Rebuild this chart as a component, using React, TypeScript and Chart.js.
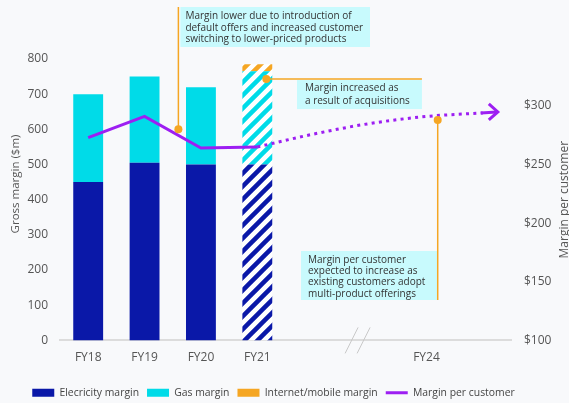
import React, { useEffect, useRef } from 'react';
import { Chart, registerables } from 'chart.js';

Chart.register(...registerables);

// ---------- data ----------
const categories = ['FY18', 'FY19', 'FY20', 'FY21', '', '', 'FY24', ''];
const electricityMargin = [450, 505, 500, 500, null, null, null, null];
const gasMargin = [250, 245, 220, 265, null, null, null, null];
const internetMargin = [null, null, null, 20, null, null, null, null];
const marginPerCustomer = [273, 291, 264, 265, null, null, null, null];
const marginPerCustomerOutlook = [null, null, null, 265, 276, 285, 291, 294];
const grossTicks = [0, 100, 200, 300, 400, 500, 600, 700, 800];
const customerTicks = [100, 150, 200, 250, 300];
const legendLabels = ['Elecricity margin', 'Gas margin', 'Internet/mobile margin', 'Margin per customer'];
const note1 = ['Margin lower due to introduction of', 'default offers and increased customer', 'switching to lower-priced products'];
const note2 = ['Margin increased as', 'a result of acquisitions'];
const note3 = ['Margin per customer', 'expected to increase as', 'existing customers adopt', 'multi-product offerings'];

// ---------- styles ----------
const DARK = '#0a18a8';
const CYAN = '#00dbe8';
const ORANGE = '#f5a623';
const PURPLE = '#9d1ff2';
const NOTE_BG = '#c8fafd';
const TEXT = '#555555';
const FONT = '"Open Sans", sans-serif';

function hatch(color: string): CanvasPattern | string {
  const S = 13;
  const c = document.createElement('canvas');
  c.width = S;
  c.height = S;
  const g = c.getContext('2d');
  if (!g) return color;
  g.fillStyle = '#ffffff';
  g.fillRect(0, 0, S, S);
  g.strokeStyle = color;
  g.lineWidth = 4.5;
  g.beginPath();
  g.moveTo(-S / 2, S / 2); g.lineTo(S / 2, -S / 2);
  g.moveTo(0, S); g.lineTo(S, 0);
  g.moveTo(S / 2, (3 * S) / 2); g.lineTo((3 * S) / 2, S / 2);
  g.stroke();
  const p = g.createPattern(c, 'repeat');
  return p || color;
}

function drawNote(ctx: CanvasRenderingContext2D, lines: string[], x0: number, y0: number, x1: number, y1: number, tx: number, ty: number, lh: number) {
  ctx.fillStyle = NOTE_BG;
  ctx.fillRect(x0, y0, x1 - x0, y1 - y0);
  ctx.fillStyle = '#333333';
  ctx.font = `10px ${FONT}`;
  ctx.textAlign = 'left';
  ctx.textBaseline = 'middle';
  lines.forEach((l, i) => ctx.fillText(l, tx, ty + i * lh));
}

function dot(ctx: CanvasRenderingContext2D, x: number, y: number) {
  ctx.fillStyle = ORANGE;
  ctx.beginPath();
  ctx.arc(x, y, 4, 0, Math.PI * 2);
  ctx.fill();
}

const annotations = {
  id: 'annotations',
  afterLayout(chart: any) {
    const lg = chart.legend;
    if (lg) {
      lg.left -= 11; lg.right -= 11;
      lg.top += 5; lg.bottom += 5;
    }
  },
  afterDatasetsDraw(chart: any) {
    const { ctx, scales } = chart;
    const x = scales.x, y = scales.y, y1 = scales.y1;
    ctx.save();

    // axis titles
    ctx.fillStyle = TEXT;
    ctx.font = `11.5px ${FONT}`;
    ctx.textAlign = 'center';
    ctx.textBaseline = 'middle';
    ctx.save(); ctx.translate(16, 184); ctx.rotate(-Math.PI / 2); ctx.fillText('Gross margin ($m)', 0, 0); ctx.restore();
    ctx.font = `12px ${FONT}`;
    ctx.save(); ctx.translate(565, (chart.chartArea.top + chart.chartArea.bottom) / 2); ctx.rotate(-Math.PI / 2); ctx.fillText('Margin per customer', 0, 0); ctx.restore();

    // axis break marks
    const bx = x.getPixelForValue(4.77);
    const by = y.getPixelForValue(0);
    ctx.strokeStyle = '#c8c8c8';
    ctx.lineWidth = 1;
    ctx.beginPath();
    ctx.moveTo(bx - 12, by + 13); ctx.lineTo(bx + 1, by - 13);
    ctx.moveTo(bx, by + 13); ctx.lineTo(bx + 13, by - 13);
    ctx.stroke();

    // arrow at end of outlook line
    const meta = chart.getDatasetMeta(4);
    const last = meta.data[meta.data.length - 1];
    if (last) {
      const tipX = last.x + 15, tipY = last.y - 1;
      ctx.strokeStyle = PURPLE;
      ctx.lineWidth = 3;
      ctx.lineCap = 'butt';
      ctx.beginPath();
      ctx.moveTo(last.x - 2, last.y); ctx.lineTo(tipX - 1, tipY);
      ctx.stroke();
      ctx.beginPath();
      ctx.moveTo(tipX - 9, tipY - 8); ctx.lineTo(tipX, tipY); ctx.lineTo(tipX - 9, tipY + 8);
      ctx.stroke();
    }

    // note 1
    ctx.strokeStyle = ORANGE;
    ctx.lineWidth = 1.5;
    const d1x = x.getPixelForValue(1.6), d1y = y.getPixelForValue(600);
    ctx.beginPath(); ctx.moveTo(d1x, 7); ctx.lineTo(d1x, d1y); ctx.stroke();
    dot(ctx, d1x, d1y);
    drawNote(ctx, note1, d1x + 2, 7, 370, 47, d1x + 7, 16.5, 11.5);

    // note 2
    const d2x = x.getPixelForValue(3.16), d2y = y.getPixelForValue(743);
    const e2x = x.getPixelForValue(5.92);
    ctx.strokeStyle = ORANGE;
    ctx.beginPath(); ctx.moveTo(d2x, d2y); ctx.lineTo(e2x, d2y); ctx.stroke();
    dot(ctx, d2x, d2y);
    drawNote(ctx, note2, 297, d2y + 1, e2x, d2y + 30, 305, d2y + 9.5, 12.5);

    // note 3
    const d3x = x.getPixelForValue(6.2), d3y = y1.getPixelForValue(288);
    const b3 = 300;
    drawNote(ctx, note3, 301, 251, d3x, b3, 308, 260, 11.3);
    ctx.strokeStyle = ORANGE;
    ctx.beginPath(); ctx.moveTo(d3x, d3y); ctx.lineTo(d3x, b3); ctx.stroke();
    dot(ctx, d3x, d3y);

    ctx.restore();
  },
};

export default function App() {
  const ref = useRef<HTMLCanvasElement | null>(null);

  useEffect(() => {
    document.body.style.margin = '0';
    document.body.style.background = '#f8f9fb';
    const canvas = ref.current;
    if (!canvas) return;
    const hDark = hatch(DARK), hCyan = hatch(CYAN), hOrange = hatch(ORANGE);
    const fy21 = categories.indexOf('FY21');
    const colorsFor = (solid: string, hatched: any) => categories.map((_, i) => (i === fy21 ? hatched : solid));

    const chart = new Chart(canvas, {
      type: 'bar',
      data: {
        labels: categories,
        datasets: [
          { type: 'bar', label: legendLabels[0], data: electricityMargin, backgroundColor: colorsFor(DARK, hDark), borderWidth: 0, yAxisID: 'y', order: 2 },
          { type: 'bar', label: legendLabels[1], data: gasMargin, backgroundColor: colorsFor(CYAN, hCyan), borderWidth: 0, yAxisID: 'y', order: 2 },
          { type: 'bar', label: legendLabels[2], data: internetMargin, backgroundColor: colorsFor(ORANGE, hOrange), borderWidth: 0, yAxisID: 'y', order: 2 },
          { type: 'line', label: legendLabels[3], data: marginPerCustomer, borderColor: PURPLE, backgroundColor: PURPLE, borderWidth: 3, pointRadius: 0, tension: 0, yAxisID: 'y1', order: 0 },
          { type: 'line', label: 'outlook', data: marginPerCustomerOutlook, borderColor: PURPLE, backgroundColor: PURPLE, borderWidth: 3, borderDash: [3, 4.3], pointRadius: 0, cubicInterpolationMode: 'monotone', yAxisID: 'y1', order: 0 },
        ] as any,
      },
      options: {
        responsive: false,
        animation: false,
        layout: { padding: { top: 59, left: 0, right: 0, bottom: 0 } },
        datasets: { bar: { barPercentage: 0.53, categoryPercentage: 1 } } as any,
        scales: {
          x: {
            stacked: true,
            grid: { display: false, drawTicks: false },
            border: { display: true, color: '#dcdcdc', width: 2 },
            ticks: { color: TEXT, font: { family: FONT, size: 12 }, padding: 10, autoSkip: false, maxRotation: 0 },
            afterFit: (s: any) => { s.height = 34.2; },
          },
          y: {
            stacked: true,
            position: 'left',
            min: 0,
            max: 800,
            grid: { display: false, drawTicks: false },
            border: { display: false },
            ticks: { color: TEXT, font: { family: FONT, size: 12 }, padding: 12 },
            afterBuildTicks: (s: any) => { s.ticks = grossTicks.map((v) => ({ value: v })); },
            afterFit: (s: any) => { s.width = 60; },
          },
          y1: {
            stacked: false,
            position: 'right',
            min: 100,
            max: 340,
            grid: { display: false, drawTicks: false },
            border: { display: false },
            ticks: { color: TEXT, font: { family: FONT, size: 12 }, padding: 13, callback: (v: any) => '$' + v },
            afterBuildTicks: (s: any) => { s.ticks = customerTicks.map((v) => ({ value: v })); },
            afterFit: (s: any) => { s.width = 58; },
          },
        },
        plugins: {
          tooltip: { enabled: false },
          legend: {
            position: 'bottom',
            labels: {
              usePointStyle: true,
              pointStyleWidth: 22,
              boxHeight: 8,
              padding: 8,
              color: '#444444',
              font: { family: FONT, size: 10.4 },
              generateLabels: () => [
                { text: legendLabels[0], fillStyle: DARK, strokeStyle: DARK, lineWidth: 0, pointStyle: 'rect', hidden: false, datasetIndex: 0, fontColor: '#444444' },
                { text: legendLabels[1], fillStyle: CYAN, strokeStyle: CYAN, lineWidth: 0, pointStyle: 'rect', hidden: false, datasetIndex: 1, fontColor: '#444444' },
                { text: legendLabels[2], fillStyle: ORANGE, strokeStyle: ORANGE, lineWidth: 0, pointStyle: 'rect', hidden: false, datasetIndex: 2, fontColor: '#444444' },
                { text: legendLabels[3], fillStyle: PURPLE, strokeStyle: PURPLE, lineWidth: 3, pointStyle: 'line', hidden: false, datasetIndex: 3, fontColor: '#444444' },
              ],
            },
          },
        },
      } as any,
      plugins: [annotations],
    });
    return () => chart.destroy();
  }, []);

  return (
    <div style={{ width: 569, height: 403 }}>
      <canvas ref={ref} width={569} height={403} style={{ display: 'block' }} />
    </div>
  );
}
